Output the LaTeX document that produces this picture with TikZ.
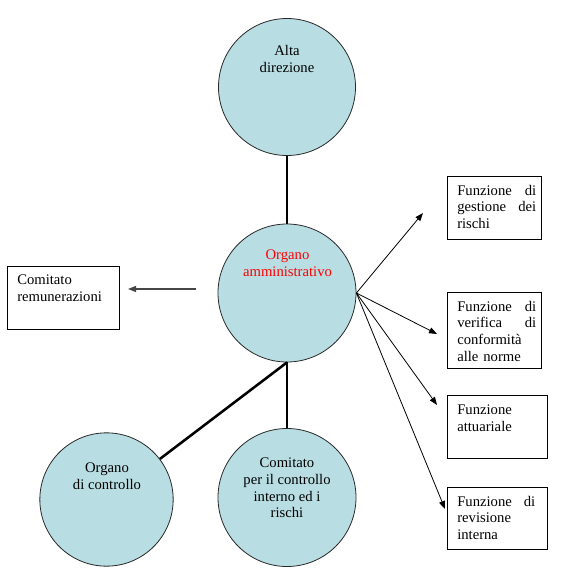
\documentclass[tikz,border=0pt]{standalone}
\usepackage{fontspec}
\setmainfont{Liberation Serif}
\usetikzlibrary{arrows.meta}
\definecolor{circfill}{RGB}{184,222,227}
\definecolor{circline}{RGB}{40,40,40}
\definecolor{arrgray}{RGB}{70,70,70}
\begin{document}
\begin{tikzpicture}[x=0.75pt,y=-0.75pt,
  circ/.style={circle,draw=circline,fill=circfill,line width=0.6pt,inner sep=0pt},
  txt/.style={font=\fontsize{11}{12.4}\selectfont,inner sep=0pt,align=center},
  btxt/.style={font=\fontsize{11}{12.4}\selectfont,inner sep=0pt,anchor=north west,text width=59.25pt,align=left},
  boxframe/.style={draw,line width=0.75pt,inner sep=0pt},
  thicklink/.style={line width=1.9pt},
  arr/.style={-{Triangle[length=6pt,width=4.5pt]},line width=0.6pt}]
\useasboundingbox (0,0) rectangle (561,588);

% circles
\node[circ,minimum size=102.75pt] (ad) at (287,87) {};
\node[circ,minimum size=103.5pt] (oa) at (287,293) {};
\node[circ,minimum size=100pt] (oc) at (106.5,499.5) {};
\node[circ,minimum size=103.5pt] (cc) at (287,497.5) {};

% circle texts
\node[txt] (adT) at (287,59) {Alta\\direzione};
\node[txt,text=red] (oaT) at (287.5,263) {Organo\\amministrativo};
\node[txt] (ocT) at (107,476) {Organo\\di controllo};
\node[txt] (ccT) at (287,488) {Comitato\\per il controllo\\interno ed i\\rischi};

% boxes
\node[boxframe,minimum width=84pt,minimum height=47.25pt] (rem) at (63,297.5) {};
\node[boxframe,minimum width=70.5pt,minimum height=47.25pt] (b1) at (494,207.5) {};
\node[boxframe,minimum width=70.5pt,minimum height=57pt] (b2) at (494,330) {};
\node[boxframe,minimum width=75pt,minimum height=47.25pt] (b3) at (497,426.5) {};
\node[boxframe,minimum width=75pt,minimum height=46.5pt] (b4) at (497,518) {};

% box texts
\node[btxt,text width=75pt] (remT) at (17,275) {Comitato\\remunerazioni};
\node[btxt] (b1T) at (457,185) {Funzione\hfill di\\gestione\hfill dei\\rischi};
\node[btxt] (b2T) at (457,301) {Funzione\hfill di\\verifica\hfill di\\conformità\\alle norme};
\node[btxt] (b3T) at (457,405) {Funzione\\attuariale};
\node[btxt,text width=58.5pt] (b4T) at (457,496) {Funzione\hfill di\\revisione\\interna};

% thick links
\draw[thicklink] (ad.south) -- (oa.north);
\draw[thicklink] (oa.south) -- (cc.north);
\draw[thicklink] (oa.south) -- (oc);

% left arrow
\coordinate (la) at (196,289);
\coordinate (lb) at (128,289);
\draw[arr,draw=arrgray,fill=arrgray,line width=1pt] (la) -- (lb);

% right arrows
\coordinate (r1) at (423,213);
\coordinate (r2) at (437,334);
\coordinate (r3) at (437,405);
\coordinate (r4) at (445,509);
\draw[arr] (oa.east) -- (r1);
\draw[arr] (oa.east) -- (r2);
\draw[arr] (oa.east) -- (r3);
\draw[arr] (oa.east) -- (r4);
\end{tikzpicture}
\end{document}
